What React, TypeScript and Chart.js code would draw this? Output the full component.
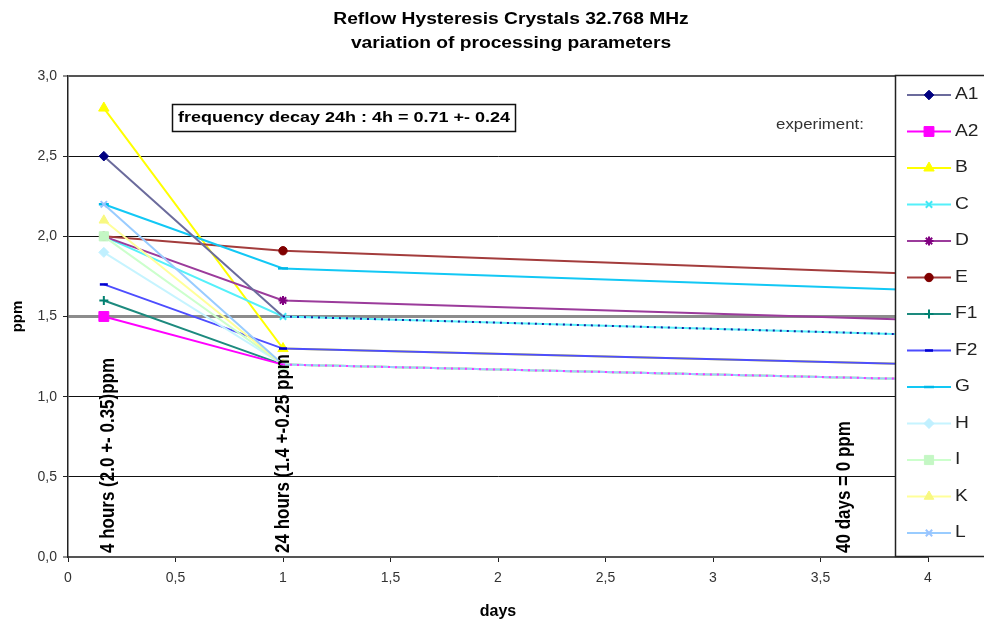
import React, { useEffect, useRef } from 'react';
import { Chart, registerables } from 'chart.js';
import { drawPoint } from 'chart.js/helpers';

Chart.register(...registerables);

// ---- chart content ----
const chartTitle = ['Reflow Hysteresis Crystals 32.768 MHz', 'variation of processing parameters'];
const xTitle = 'days';
const yTitle = 'ppm';

// measurement times in days: 4 hours, 24 hours, 40 days
const measureDays = [4 / 24, 1, 40];

const seriesNames = ['A1', 'A2', 'B', 'C', 'D', 'E', 'F1', 'F2', 'G', 'H', 'I', 'K', 'L'];
const valuesA1 = [2.5, 1.5, 0];
const valuesA2 = [1.5, 1.2, 0];
const valuesB = [2.8, 1.3, 0];
const valuesC = [2.0, 1.5, 0];
const valuesD = [2.0, 1.6, 0];
const valuesE = [2.0, 1.91, 0];
const valuesF1 = [1.6, 1.2, 0];
const valuesF2 = [1.7, 1.3, 0];
const valuesG = [2.2, 1.8, 0];
const valuesH = [1.9, 1.2, 0];
const valuesI = [2.0, 1.2, 0];
const valuesK = [2.1, 1.2, 0];
const valuesL = [2.2, 1.2, 0];
const seriesValues = [
  valuesA1, valuesA2, valuesB, valuesC, valuesD, valuesE, valuesF1,
  valuesF2, valuesG, valuesH, valuesI, valuesK, valuesL,
];

const xTickLabels = ['0', '0,5', '1', '1,5', '2', '2,5', '3', '3,5', '4'];
const yTickLabels = ['0,0', '0,5', '1,0', '1,5', '2,0', '2,5', '3,0'];

const noteText = 'frequency decay 24h : 4h = 0.71 +- 0.24';
const experimentText = 'experiment:';
const stageLabels = ['4 hours (2.0 +- 0.35)ppm', '24 hours (1.4 +-0.25 ppm', '40 days = 0 ppm'];
const stageLabelDays = [0.19, 1, 3.61];

// ---- styling ----
const FONT = '"Liberation Sans", Arial, Helvetica, sans-serif';
const STRETCH = 1.2;

type SeriesStyle = { line: string; mark: string; point: string; r: number; bw: number };
const seriesStyles: SeriesStyle[] = [
  { line: '#6b6b9c', mark: '#000080', point: 'rectRot', r: 4.8, bw: 1 },
  { line: '#ff00ff', mark: '#ff00ff', point: 'rect', r: 7, bw: 1 },
  { line: '#ffff00', mark: '#ffff00', point: 'triangle', r: 6, bw: 1 },
  { line: '#55f0fa', mark: '#40e8f5', point: 'crossRot', r: 4.5, bw: 2 },
  { line: '#9b3b9b', mark: '#800080', point: 'star', r: 4.5, bw: 2 },
  { line: '#a33c3c', mark: '#800000', point: 'circle', r: 4.2, bw: 1 },
  { line: '#1d8a7e', mark: '#008070', point: 'cross', r: 4.5, bw: 2 },
  { line: '#4d4dff', mark: '#0000d0', point: 'line', r: 4, bw: 2.5 },
  { line: '#12c8f5', mark: '#00b8e8', point: 'line', r: 5, bw: 2.5 },
  { line: '#c6f4ff', mark: '#c0f0ff', point: 'rectRot', r: 5, bw: 1 },
  { line: '#ccffcc', mark: '#c4f7c4', point: 'rect', r: 6.5, bw: 1 },
  { line: '#ffff99', mark: '#f8f880', point: 'triangle', r: 5.5, bw: 1 },
  { line: '#99ccff', mark: '#99c4ff', point: 'crossRot', r: 4.5, bw: 2 },
];

// A1 and A2 continue as dotted traces after the 24 hour reading;
// their 24 hour markers sit underneath the later series' markers
const dottedAfter24h: Record<string, string> = { A1: '#1f1fa0', A2: '#ff33ff' };

function stretchedText(
  ctx: CanvasRenderingContext2D,
  text: string,
  x: number,
  y: number,
  font: string,
  color: string,
  align: CanvasTextAlign = 'center',
  vertical = false
) {
  ctx.save();
  ctx.font = font;
  ctx.fillStyle = color;
  ctx.textAlign = align;
  ctx.textBaseline = 'middle';
  ctx.translate(x, y);
  ctx.scale(STRETCH, 1);
  if (vertical) ctx.rotate(-Math.PI / 2);
  ctx.fillText(text, 0, 0);
  ctx.restore();
}

const decorations = {
  id: 'decorations',
  afterDatasetsDraw(chart: any) {
    const ctx: CanvasRenderingContext2D = chart.ctx;
    const xs = chart.scales.x;
    const base = chart.chartArea.bottom - 4;
    stageLabels.forEach((t, i) => {
      stretchedText(ctx, t, xs.getPixelForValue(stageLabelDays[i]), base, `bold 17px ${FONT}`, '#000', 'left', true);
    });
  },
  afterDraw(chart: any) {
    const ctx: CanvasRenderingContext2D = chart.ctx;
    const area = chart.chartArea;

    // title
    stretchedText(ctx, chartTitle[0], 511, 20, `bold 16px ${FONT}`, '#000');
    stretchedText(ctx, chartTitle[1], 511, 44, `bold 16px ${FONT}`, '#000');

    // note box
    ctx.save();
    ctx.fillStyle = '#fff';
    ctx.fillRect(172, 104, 343, 27);
    ctx.strokeStyle = '#111';
    ctx.lineWidth = 1.5;
    ctx.strokeRect(172.5, 104.5, 343, 27);
    ctx.restore();
    stretchedText(ctx, noteText, 344, 118, `bold 15px ${FONT}`, '#000');

    stretchedText(ctx, experimentText, 820, 125, `14px ${FONT}`, '#333');

    // legend panel
    const lx = 895;
    const top = area.top - 1;
    const bottom = area.bottom - 1;
    ctx.save();
    ctx.fillStyle = '#fff';
    ctx.fillRect(lx, top, 120, bottom - top);
    ctx.strokeStyle = '#222';
    ctx.lineWidth = 1.5;
    ctx.strokeRect(lx + 0.5, top + 0.5, 120, bottom - top);
    ctx.restore();

    seriesNames.forEach((name, i) => {
      const st = seriesStyles[i];
      const y = 95 + i * 36.5;
      ctx.save();
      ctx.strokeStyle = st.line;
      ctx.lineWidth = 2;
      ctx.beginPath();
      ctx.moveTo(907, y);
      ctx.lineTo(951, y);
      ctx.stroke();
      ctx.fillStyle = st.mark;
      ctx.strokeStyle = st.mark;
      ctx.lineWidth = st.bw;
      drawPoint(ctx, { pointStyle: st.point as any, rotation: 0, radius: st.r, borderWidth: st.bw }, 929, y);
      ctx.restore();
      stretchedText(ctx, name, 955, y, `16px ${FONT}`, '#222', 'left');
    });
  },
};

export default function App() {
  const canvasRef = useRef<HTMLCanvasElement | null>(null);

  useEffect(() => {
    document.body.style.margin = '0';
    const canvas = canvasRef.current;
    if (!canvas) return;

    const datasets = seriesNames.map((name, i) => {
      const st = seriesStyles[i];
      const dotColor = dottedAfter24h[name];
      return {
        label: name,
        data: measureDays.map((d, k) => ({ x: d, y: seriesValues[i][k] })),
        borderColor: st.line,
        backgroundColor: st.mark,
        borderWidth: 2,
        pointStyle: st.point,
        pointRadius: dotColor ? measureDays.map((_d, k) => (k === 1 ? 0 : st.r)) : st.r,
        pointBorderColor: st.mark,
        pointBackgroundColor: st.mark,
        pointBorderWidth: st.bw,
        tension: 0,
        order: dotColor ? -100 + i : -i,
        segment: dotColor
          ? {
              borderDash: (c: any) => (c.p0DataIndex === 1 ? [2, 5] : undefined),
              borderColor: (c: any) => (c.p0DataIndex === 1 ? dotColor : undefined),
            }
          : undefined,
      };
    });

    const gridColor = (c: any) => {
      const v = c.tick ? c.tick.value : null;
      if (v === 1.5) return '#8c8c8c';
      if (v === 0 || v === 3) return '#555';
      return '#111';
    };
    const gridWidth = (c: any) => {
      const v = c.tick ? c.tick.value : null;
      if (v === 1.5) return 3;
      if (v === 0 || v === 3) return 2;
      return 1;
    };

    const chart = new Chart(canvas, {
      type: 'line',
      data: { datasets: datasets as any },
      plugins: [decorations],
      options: {
        responsive: false,
        animation: false,
        devicePixelRatio: 1,
        layout: { padding: { top: 76, right: 56, left: 0, bottom: 0 } },
        plugins: {
          legend: { display: false },
          title: { display: false },
          tooltip: { enabled: false },
        },
        scales: {
          x: {
            type: 'linear',
            min: 0,
            max: 4,
            ticks: {
              stepSize: 0.5,
              callback: (_v: any, i: number) => xTickLabels[i],
              font: { family: FONT, size: 14 },
              color: '#333',
              padding: 8,
              maxRotation: 0,
            },
            grid: { drawOnChartArea: false, drawTicks: true, tickLength: 5, tickColor: '#222', tickWidth: 1 },
            border: { display: true, color: '#555', width: 2 },
            title: {
              display: true,
              text: xTitle,
              font: { family: FONT, size: 16, weight: 'bold' },
              color: '#000',
              padding: { top: 0, bottom: 5 },
            },
            afterFit: (s: any) => {
              s.height = 69;
            },
          },
          y: {
            type: 'linear',
            min: 0,
            max: 3,
            ticks: {
              stepSize: 0.5,
              callback: (_v: any, i: number) => yTickLabels[i],
              font: { family: FONT, size: 14 },
              color: '#333',
              padding: 6,
            },
            grid: {
              drawOnChartArea: true,
              drawTicks: true,
              tickLength: 5,
              color: gridColor,
              lineWidth: gridWidth,
              tickColor: '#222',
              tickWidth: 1,
            },
            border: { display: true, color: '#222', width: 1.5 },
            title: {
              display: true,
              text: yTitle,
              font: { family: FONT, size: 15, weight: 'bold' },
              color: '#000',
              padding: { top: 9, bottom: 0 },
            },
            afterFit: (s: any) => {
              s.width = 68;
            },
          },
        },
      } as any,
    });

    return () => chart.destroy();
  }, []);

  return (
    <div style={{ width: 984, height: 626, position: 'relative', background: '#fff' }}>
      <canvas ref={canvasRef} width={984} height={626} style={{ display: 'block' }} />
    </div>
  );
}
